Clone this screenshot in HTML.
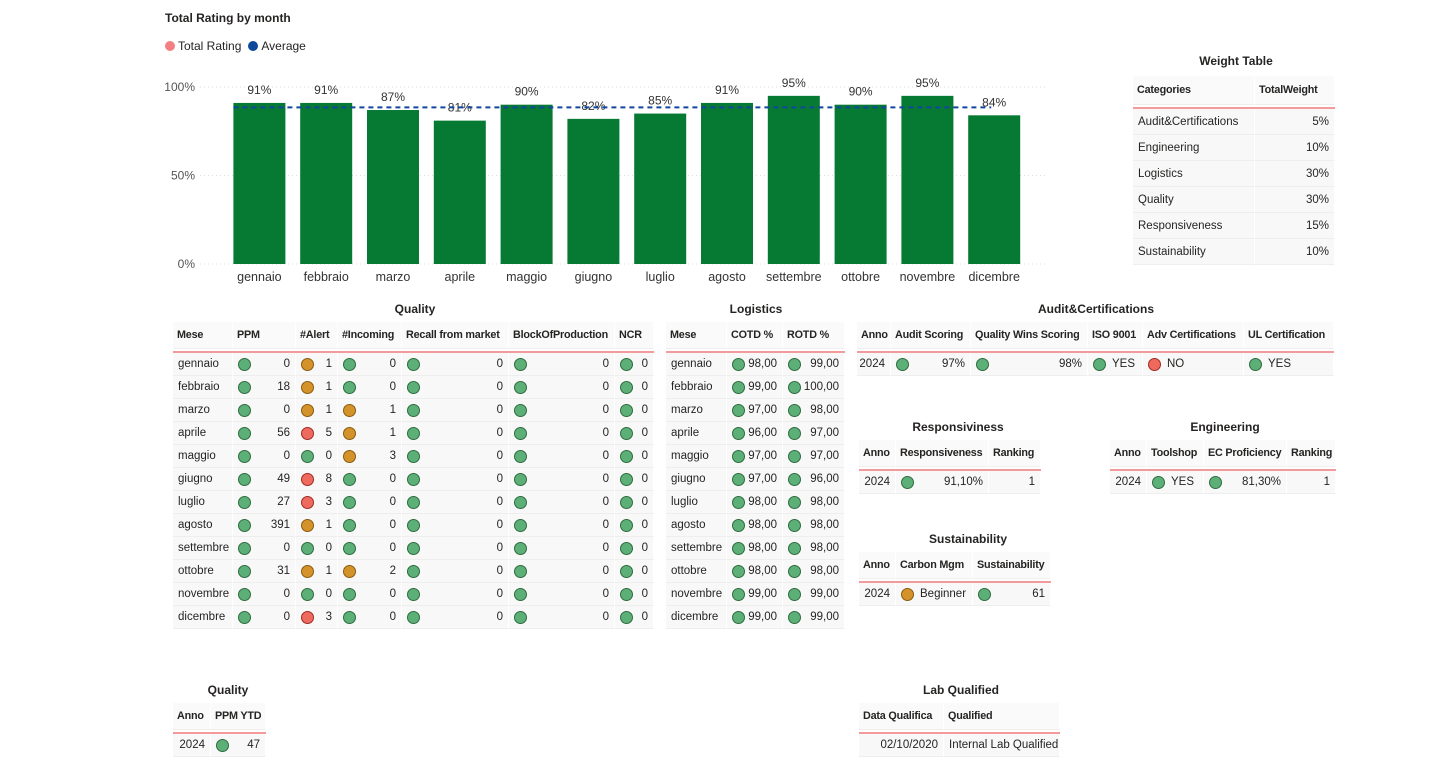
<!DOCTYPE html>
<html><head><meta charset="utf-8">
<style>
body{margin:0;width:1440px;height:762px;background:#fff;font-family:"Liberation Sans",sans-serif;color:#252423;position:relative;overflow:hidden}
.abs{position:absolute}
.t{position:absolute;font-size:12px;font-weight:bold;text-align:center;white-space:nowrap}
.cell{position:absolute;box-sizing:border-box;font-size:11.5px;white-space:nowrap;overflow:hidden;background:#f8f8f8;border-right:1px solid #fff;border-bottom:1px solid #eee;padding:0 5px;display:flex;align-items:center}
.hd{font-weight:bold;background:#fafafa;font-size:10.8px;letter-spacing:-0.2px;padding:0 4px}
.dot{width:13px;height:13px;border-radius:50%;box-sizing:border-box;border:1px solid #2f6b3f;flex:none}
.g{background:#5cb077}.o{background:#d4932a;border-color:#8a5a10}.r{background:#ee6a5f;border-color:#a02a22}
</style></head><body>
<div class="t" style="left:165px;top:11px;text-align:left">Total Rating by month</div>
<div class="abs" style="left:165px;top:39px;font-size:12px;display:flex;align-items:center;gap:3px">
<span style="width:10px;height:10px;border-radius:50%;background:#f47f82;display:inline-block"></span><span>Total Rating</span>
<span style="width:10px;height:10px;border-radius:50%;background:#0f4a9a;display:inline-block;margin-left:4px"></span><span>Average</span></div>
<svg id="chart" class="abs" style="left:0;top:0" width="1060" height="290"></svg>
<div id="tables"></div>
<script>
const months=["gennaio","febbraio","marzo","aprile","maggio","giugno","luglio","agosto","settembre","ottobre","novembre","dicembre"];
const ratings=[91,91,87,81,90,82,85,91,95,90,95,84];
const averageValue=88.5;
const yTicks=[0,50,100];
const NS="http://www.w3.org/2000/svg";
const svg=document.getElementById('chart');
const y0=264,yH=177,x0=226,step=66.8,bw=52;
function ys(v){return y0-v/100*yH;}
function xs(i){return x0+step*i+step/2;}
function mk(tag,attrs,txt){const e=document.createElementNS(NS,tag);for(const k in attrs)e.setAttribute(k,attrs[k]);if(txt!==undefined)e.textContent=txt;svg.appendChild(e);return e;}
yTicks.forEach(t=>{
 const l=mk('line',{x1:200,x2:1045,y1:ys(t),y2:ys(t),stroke:'#ddd','stroke-dasharray':'1,3'});
 
 
 const tx=mk('text',{x:195,y:ys(t)+4,'text-anchor':'end','font-size':12,fill:'#555','font-family':'Liberation Sans'},t+'%');
 
 
});
ratings.forEach((v,i)=>{
 const r=mk('rect',{x:xs(i)-bw/2,y:ys(v),width:bw,height:y0-ys(v),fill:'#067a33'});
 
 
 const lb=mk('text',{x:xs(i),y:ys(v)-9,'text-anchor':'middle','font-size':12,fill:'#333','font-family':'Liberation Sans'},v+'%');
 
 
 const m=mk('text',{x:xs(i),y:281,'text-anchor':'middle','font-size':12.5,fill:'#333','font-family':'Liberation Sans'},months[i]);
 
 
});
const av=mk('line',{x1:xs(0)-26,x2:xs(11)-3,y1:ys(averageValue),y2:ys(averageValue),stroke:'#1346a0','stroke-width':2,'stroke-dasharray':'5,4'});



const host=document.getElementById('tables');
function title(txt,cx,y,name){const d=document.createElement('div');d.className='t';d.style.left=(cx-100)+'px';d.style.width='200px';d.style.top=(y-8)+'px';d.textContent=txt;
 
 
 host.appendChild(d);}
function table(name,x,hy,cols,rows,rh,hh,lineGap){
 let cx=x;
 const lineY=hy+hh+(lineGap||0);
 cols.forEach(c=>{const d=document.createElement('div');d.className='cell hd';d.style.left=cx+'px';d.style.top=hy+'px';d.style.width=c.w+'px';d.style.height=hh+'px';d.textContent=c.l;if(c.hr)d.style.justifyContent='flex-end';
  
  
  host.appendChild(d);cx+=c.w;});
 const ln=document.createElement('div');ln.className='abs';ln.style.cssText='left:'+x+'px;top:'+lineY+'px;width:'+(cx-x)+'px;height:2px;background:#f39a9c';
 
 
 host.appendChild(ln);
 rows.forEach((r,ri)=>{let xx=x;const top=lineY+2+ri*rh;
  r.forEach((v,ci)=>{const c=cols[ci];const d=document.createElement('div');d.className='cell';d.style.left=xx+'px';d.style.top=top+'px';d.style.width=c.w+'px';d.style.height=rh+'px';
   if(typeof v==='object'){const dt=document.createElement('span');dt.className='dot '+v.c;d.appendChild(dt);const s=document.createElement('span');s.textContent=v.v;s.style.marginLeft='6px';if(v.a!=='l')s.style.marginLeft='auto';d.appendChild(s);}
   else{d.textContent=v;if(c.r)d.style.justifyContent='flex-end';}
   
   
   host.appendChild(d);xx+=c.w;});
 });
}
title('Weight Table',1236,62,'weight-table-title');
table('weight-table',1133,76,[{w:122,l:'Categories'},{w:80,l:'TotalWeight'}],
 [['Audit&Certifications','5%'],['Engineering','10%'],['Logistics','30%'],['Quality','30%'],['Responsiveness','15%'],['Sustainability','10%']],26,29,2);
const G=v=>({c:'g',v:String(v)}),O=v=>({c:'o',v:String(v)}),R=v=>({c:'r',v:String(v)});
title('Quality',415,310,'quality-table-title');
const qRows=[
['gennaio',G(0),O(1),G(0),G(0),G(0),G(0)],
['febbraio',G(18),O(1),G(0),G(0),G(0),G(0)],
['marzo',G(0),O(1),O(1),G(0),G(0),G(0)],
['aprile',G(56),R(5),O(1),G(0),G(0),G(0)],
['maggio',G(0),G(0),O(3),G(0),G(0),G(0)],
['giugno',G(49),R(8),G(0),G(0),G(0),G(0)],
['luglio',G(27),R(3),G(0),G(0),G(0),G(0)],
['agosto',G(391),O(1),G(0),G(0),G(0),G(0)],
['settembre',G(0),G(0),G(0),G(0),G(0),G(0)],
['ottobre',G(31),O(1),O(2),G(0),G(0),G(0)],
['novembre',G(0),G(0),G(0),G(0),G(0),G(0)],
['dicembre',G(0),R(3),G(0),G(0),G(0),G(0)]];
table('quality-table',173,322,[{w:60,l:'Mese'},{w:63,l:'PPM'},{w:42,l:'#Alert'},{w:64,l:'#Incoming'},{w:107,l:'Recall from market'},{w:106,l:'BlockOfProduction'},{w:39,l:'NCR'}],qRows,23,27,2);
title('Logistics',756,310,'logistics-table-title');
const lg=[['gennaio','98,00','99,00'],['febbraio','99,00','100,00'],['marzo','97,00','98,00'],['aprile','96,00','97,00'],['maggio','97,00','97,00'],['giugno','97,00','96,00'],['luglio','98,00','98,00'],['agosto','98,00','98,00'],['settembre','98,00','98,00'],['ottobre','98,00','98,00'],['novembre','99,00','99,00'],['dicembre','99,00','99,00']];
table('logistics-table',666,322,[{w:61,l:'Mese'},{w:56,l:'COTD %'},{w:62,l:'ROTD %'}],lg.map(r=>[r[0],G(r[1]),G(r[2])]),23,27,2);
title('Audit&Certifications',1096,310,'audit-table-title');
table('audit-table',857,322,[{w:34,l:'Anno'},{w:80,l:'Audit Scoring'},{w:117,l:'Quality Wins Scoring'},{w:55,l:'ISO 9001'},{w:101,l:'Adv Certifications'},{w:90,l:'UL Certification'}],
 [['2024',G('97%'),G('98%'),{c:'g',v:'YES',a:'l'},{c:'r',v:'NO',a:'l'},{c:'g',v:'YES',a:'l'}]],23,27,2);
title('Responsiviness',958,428,'responsiveness-table-title');
table('responsiveness-table',859,440,[{w:37,l:'Anno'},{w:93,l:'Responsiveness'},{w:52,l:'Ranking',r:1}],[['2024',G('91,10%'),'1']],23,27,2);
title('Engineering',1225,428,'engineering-table-title');
table('engineering-table',1110,440,[{w:37,l:'Anno'},{w:57,l:'Toolshop'},{w:83,l:'EC Proficiency'},{w:49,l:'Ranking',r:1}],[['2024',{c:'g',v:'YES',a:'l'},G('81,30%'),'1']],23,27,2);
title('Sustainability',968,540,'sustainability-table-title');
table('sustainability-table',859,552,[{w:37,l:'Anno'},{w:77,l:'Carbon Mgm'},{w:78,l:'Sustainability'}],[['2024',{c:'o',v:'Beginner',a:'l'},G('61')]],23,27,2);
title('Quality',228,691,'quality-ytd-table-title');
table('quality-ytd-table',173,703,[{w:38,l:'Anno'},{w:55,l:'PPM YTD'}],[['2024',G('47')]],23,27,2);
title('Lab Qualified',961,691,'lab-qualified-table-title');
table('lab-qualified-table',859,703,[{w:85,l:'Data Qualifica'},{w:116,l:'Qualified'}],[['02/10/2020','Internal Lab Qualified']],23,27,2);
document.querySelectorAll('.cell').forEach(c=>{if(/^\d+%$|^2024$|^\d+$|^\d\d\/\d\d\/\d{4}$/.test(c.textContent)&&!c.querySelector('.dot'))c.style.justifyContent='flex-end';});
</script>
</body></html>
